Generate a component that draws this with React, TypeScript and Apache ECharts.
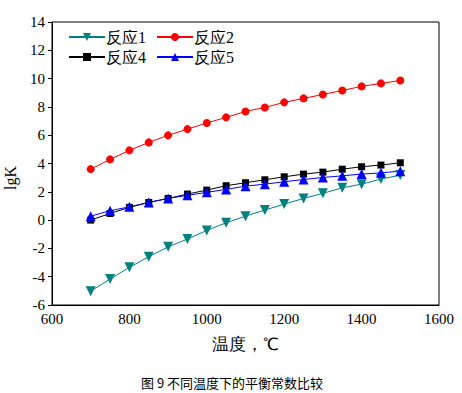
import React, { useEffect, useRef } from "react";
import * as echarts from "echarts";

const temps = [700, 750, 800, 850, 900, 950, 1000, 1050, 1100, 1150, 1200, 1250, 1300, 1350, 1400, 1450, 1500];
const r1 = [-5.02, -4.17, -3.34, -2.59, -1.89, -1.34, -0.73, -0.19, 0.28, 0.71, 1.13, 1.53, 1.89, 2.28, 2.54, 2.9, 3.18];
const r2 = [3.6, 4.29, 4.93, 5.49, 5.99, 6.43, 6.86, 7.26, 7.68, 7.96, 8.32, 8.6, 8.88, 9.16, 9.45, 9.66, 9.87];
const r4 = [0.0, 0.47, 0.9, 1.25, 1.53, 1.84, 2.12, 2.43, 2.64, 2.85, 3.06, 3.25, 3.39, 3.6, 3.77, 3.89, 4.05];
const r5 = [0.28, 0.66, 0.94, 1.25, 1.53, 1.75, 1.96, 2.17, 2.4, 2.54, 2.71, 2.87, 3.01, 3.13, 3.25, 3.34, 3.46];

const names = ["反应1", "反应2", "反应4", "反应5"];
const xTitle = "温度，℃";
const yTitle = "lgK";
const caption = "图 9 不同温度下的平衡常数比较";

const serif = "Liberation Serif";
const cjk = "Liberation Serif";

export default function App() {
  const ref = useRef<HTMLDivElement>(null);
  useEffect(() => {
    if (!ref.current) return;
    const chart = echarts.init(ref.current, null, { renderer: "svg" });
    const pair = (ys: number[]) => temps.map((t, i) => [t, ys[i]]);
    const mk = (name: string, ys: number[], color: string, symbol: string, size: number) => ({
      name,
      type: "line",
      data: pair(ys),
      symbol,
      symbolSize: size,
      showAllSymbol: true,
      lineStyle: { color, width: 1 },
      itemStyle: { color },
    });
    const legendText = { fontFamily: cjk, fontSize: 16, color: "#000", padding: [0, 0, 0, -4] };
    chart.setOption({
      animation: false,
      backgroundColor: "#fff",
      grid: { left: 52, right: 23, top: 22, bottom: 88, show: true, borderColor: "#000", borderWidth: 1 },
      legend: [
        { data: [names[0], names[1]], left: 63, top: 24, itemWidth: 36, itemHeight: 10, itemGap: 10, textStyle: legendText },
        { data: [names[2], names[3]], left: 63, top: 44, itemWidth: 36, itemHeight: 10, itemGap: 10, textStyle: legendText },
      ],
      xAxis: {
        type: "value",
        min: 600,
        max: 1600,
        interval: 200,
        name: xTitle,
        nameLocation: "middle",
        nameGap: 31,
        nameTextStyle: { fontFamily: cjk, fontSize: 17, color: "#000" },
        axisLine: { onZero: false, lineStyle: { color: "#000" } },
        axisTick: { show: false },
        splitLine: { show: false },
        axisLabel: { fontFamily: serif, fontSize: 15, color: "#000", margin: 6, formatter: (v: number) => String(v) },
      },
      yAxis: {
        type: "value",
        min: -6,
        max: 14,
        interval: 2,
        axisLine: { show: true, onZero: false, lineStyle: { color: "#000" } },
        axisTick: { show: true, length: 4, lineStyle: { color: "#000" } },
        splitLine: { show: false },
        axisLabel: { fontFamily: serif, fontSize: 15, color: "#000", margin: 7 },
      },
      graphic: [
        {
          type: "text",
          x: 10,
          y: 178,
          rotation: Math.PI / 2,
          style: { text: yTitle, fontFamily: serif, fontSize: 16, fill: "#000", textAlign: "center", textVerticalAlign: "middle" },
        },
        {
          type: "text",
          x: 232,
          y: 382,
          style: { text: caption, fontFamily: "Noto Sans CJK SC", fontSize: 13, fill: "#000", textAlign: "center", textVerticalAlign: "middle" },
        },
      ],
      series: [
        mk(names[0], r1, "#008080", "path://M0,0 L10,0 L5,9 Z", 10),
        mk(names[1], r2, "#ff0000", "circle", 8),
        mk(names[2], r4, "#000000", "rect", 7),
        mk(names[3], r5, "#0000ff", "triangle", 10),
      ],
    });
    return () => chart.dispose();
  }, []);
  return <div ref={ref} style={{ position: "absolute", left: 0, top: 0, width: 462, height: 393 }} />;
}
